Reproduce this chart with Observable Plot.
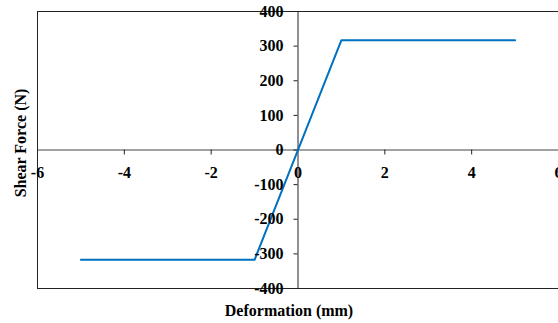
<!DOCTYPE html>
<html>
<head>
<meta charset="utf-8">
<script src="https://cdn.jsdelivr.net/npm/d3@7"></script>
<script src="https://cdn.jsdelivr.net/npm/@observablehq/plot@0.6"></script>
<style>
  html, body { margin: 0; padding: 0; background: #fff; overflow: hidden; }
</style>
</head>
<body>
<div id="chart"></div>
<script>
const xTicks = [-6, -4, -2, 0, 2, 4, 6];
const yTicks = [-400, -300, -200, -100, 0, 100, 200, 300, 400];
const deformation = [-5, -1, 1, 5];
const shearForce = [-317, -317, 317, 317];
const xTitle = "Deformation (mm)";
const yTitle = "Shear Force (N)";

const data = deformation.map((x, i) => ({x, y: shearForce[i]}));
const font = "Liberation Serif, Times New Roman, serif";

const chart = Plot.plot({
  width: 558,
  height: 323,
  marginLeft: 37,
  marginRight: 0,
  marginTop: 11,
  marginBottom: 35,
  x: {domain: [-6, 6], axis: null},
  y: {domain: [-400, 400], axis: null},
  style: {fontFamily: font, fontSize: "16px", fontWeight: "bold", background: "white", color: "#000"},
  marks: [
    Plot.ruleY([yTicks[0], yTicks[yTicks.length - 1]], {stroke: "#222", strokeWidth: 1}),
    Plot.ruleX([xTicks[0]], {stroke: "#222", strokeWidth: 1}),
    Plot.ruleY([0], {stroke: "#444", strokeWidth: 1}),
    Plot.ruleX([0], {stroke: "#222", strokeWidth: 1}),
    Plot.ruleX(xTicks.filter(d => d !== 0), {x: d => d, y1: 0, y2: -14.4, stroke: "#222"}),
    Plot.ruleY(yTicks, {y: d => d, x1: 0, x2: -0.092, stroke: "#222"}),
    Plot.line(data, {x: "x", y: "y", stroke: "#0070C0", strokeWidth: 2}),
    Plot.text(xTicks, {x: d => d, y: 0, text: d => String(d), dy: 23, fontSize: 16, fontWeight: "bold", fill: "#000"}),
    Plot.text(yTicks, {x: 0, y: d => d, text: d => String(d), textAnchor: "end", dx: -14.5, fontSize: 16, fontWeight: "bold", fill: "#000"}),
    Plot.text([xTitle], {frameAnchor: "bottom", text: d => d, textAnchor: "middle", lineAnchor: "middle", dx: -9, dy: 22, fontSize: 16, fontWeight: "bold", fill: "#000"}),
    Plot.text([yTitle], {frameAnchor: "left", text: d => d, textAnchor: "middle", lineAnchor: "middle", rotate: -90, dx: -17, dy: -7, fontSize: 16, fontWeight: "bold", fill: "#000"})
  ]
});
document.getElementById("chart").appendChild(chart);
</script>
</body>
</html>
